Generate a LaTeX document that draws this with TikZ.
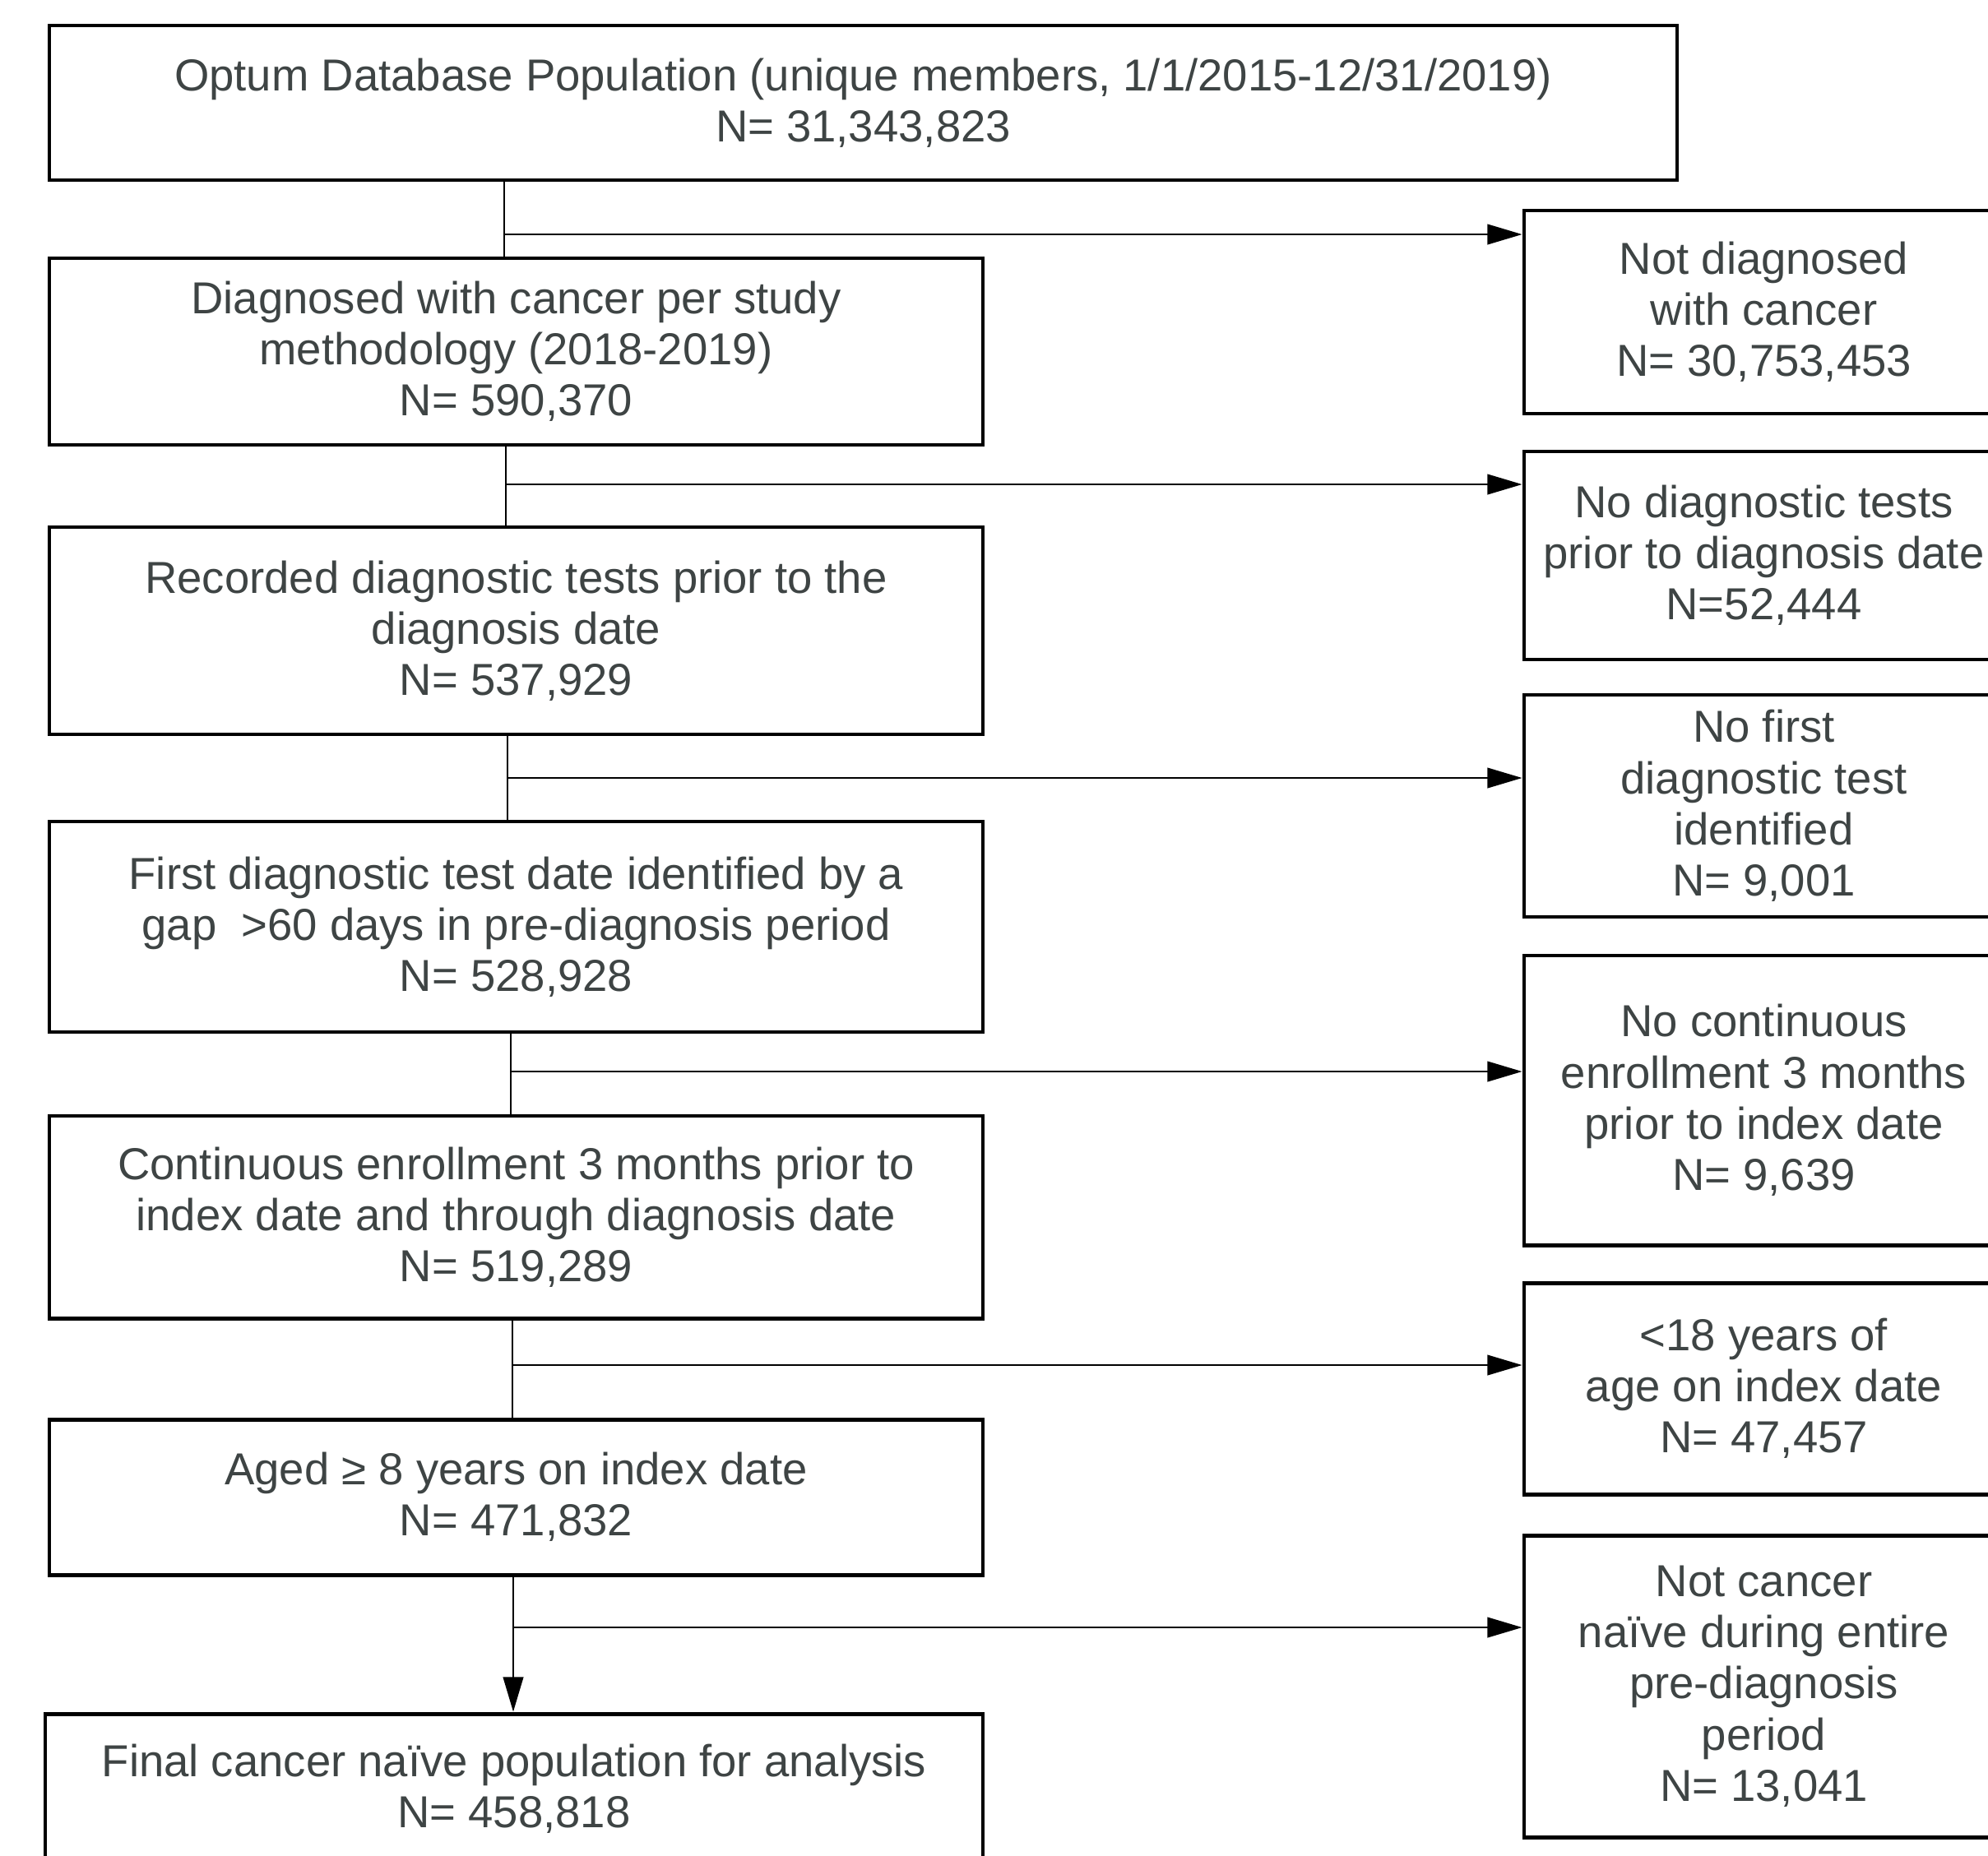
\documentclass[tikz,border=0pt]{standalone}
\usepackage{fontspec}
\setmainfont{Liberation Sans}
\usetikzlibrary{arrows.meta}
\definecolor{txtgrey}{RGB}{62,68,68}
\begin{document}
\begin{tikzpicture}[
    box/.style={draw=black,line width=1.4pt,align=center,text=txtgrey,
        font=\fontsize{15.5}{17.7}\selectfont,inner sep=0pt},
    leftbox/.style={box,minimum width=11.35cm},
    rightbox/.style={box,minimum width=5.83cm},
    link/.style={line width=0.6pt},
    arr/.style={link,-{Triangle[length=12pt,width=7pt]}}
  ]
    \useasboundingbox (0,0) rectangle (24.17,-22.56);
    % main column
    \node[box,minimum width=19.79cm,minimum height=1.88cm] (pop) at (10.495,-1.25)
        {Optum Database Population (unique members, 1/1/2015-12/31/2019)\\N= 31,343,823};
    \node[leftbox,minimum height=2.27cm] (diag) at (6.275,-4.275)
        {Diagnosed with cancer per study\\methodology (2018-2019)\\N= 590,370};
    \node[leftbox,minimum height=2.52cm] (tests) at (6.275,-7.67)
        {Recorded diagnostic tests prior to the\\diagnosis date\\N= 537,929};
    \node[leftbox,minimum height=2.56cm] (first) at (6.275,-11.27)
        {First diagnostic test date identified by a\\gap \ >60 days in pre-diagnosis period\\N= 528,928};
    \node[leftbox,minimum height=2.46cm] (enrol) at (6.275,-14.80)
        {Continuous enrollment 3 months prior to\\index date and through diagnosis date\\N= 519,289};
    \node[leftbox,minimum height=1.89cm] (aged) at (6.275,-18.205)
        {Aged ≥ 8 years on index date\\N= 471,832};
    \node[box,minimum width=11.40cm,minimum height=1.82cm] (final) at (6.25,-21.75)
        {Final cancer naïve population for analysis\\N= 458,818};
    % exclusions
    \node[rightbox,minimum height=2.47cm] (nodiag) at (21.445,-3.795)
        {Not diagnosed\\with cancer\\N= 30,753,453};
    \node[rightbox,minimum height=2.53cm] (notests) at (21.445,-6.755)
        {No diagnostic tests\\prior to diagnosis date\\N=52,444};
    \node[rightbox,minimum height=2.70cm] (nofirst) at (21.445,-9.80)
        {No first\\diagnostic test\\identified\\N= 9,001};
    \node[rightbox,minimum height=3.52cm] (noenrol) at (21.445,-13.38)
        {No continuous\\enrollment 3 months\\prior to index date\\N= 9,639};
    \node[rightbox,minimum height=2.57cm] (young) at (21.445,-16.885)
        {<18 years of\\age on index date\\N= 47,457};
    \node[rightbox,minimum height=3.67cm] (notnaive) at (21.445,-20.505)
        {Not cancer\\naïve during entire\\pre-diagnosis\\period\\N= 13,041};
    % connectors
    \foreach \a/\b/\r/\x/\y in {pop/diag/nodiag/6.13/-2.85,
        diag/tests/notests/6.15/-5.89,
        tests/first/nofirst/6.17/-9.46,
        first/enrol/noenrol/6.21/-13.03,
        enrol/aged/young/6.23/-16.60}{
        \coordinate (s) at (\x,\y);
        \draw[link] (\a.south -| s) -- (\b.north -| s);
        \draw[arr] (s) -- (s -| \r.west);
    }
    \coordinate (s6) at (6.24,-19.79);
    \draw[arr] (aged.south -| s6) -- (final.north -| s6);
    \draw[arr] (s6) -- (s6 -| notnaive.west);
\end{tikzpicture}
\end{document}
